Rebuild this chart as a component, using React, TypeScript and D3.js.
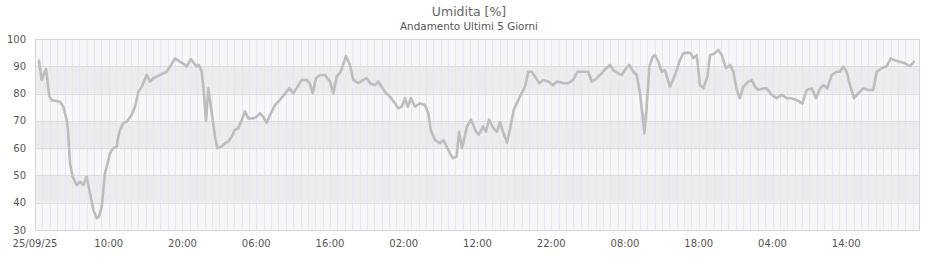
import React from "react";
import * as d3 from "d3";

// time offset in hours from 25/09/25 00:00
const hours: number[] = [
  0.54, 0.91, 1.49, 1.94, 2.26, 3.39, 3.84, 4.3, 4.47, 4.75, 5.11, 5.65, 6.1, 6.55, 7.01, 7.23, 7.91, 8.37, 8.68, 9.04,
  9.49, 10.17, 10.62, 11.08, 11.29, 11.53, 11.97, 12.43, 13.11, 13.56, 14.01, 14.47, 15.15, 15.59, 16.04, 16.5, 16.95,
  17.4, 17.86, 18.31, 18.98, 19.66, 20.34, 20.57, 21.11, 21.56, 21.93, 22.24, 22.6, 22.82, 23.19, 23.5, 23.86, 24.41,
  24.72, 25.32, 25.76, 26.21, 26.67, 27.12, 27.57, 28.03, 28.47, 28.92, 29.6, 30.06, 30.51, 30.96, 31.42, 32.09, 32.54,
  32.99, 33.45, 33.9, 34.49, 35.02, 35.48, 36.16, 36.84, 37.29, 37.65, 38.1, 38.64, 39.32, 40.0, 40.45, 40.91, 41.45,
  42.17, 42.71, 43.16, 43.84, 44.52, 44.98, 45.42, 46.1, 46.55, 47.01, 47.59, 48.14, 48.81, 49.26, 49.72, 50.17, 50.54,
  50.98, 51.53, 52.2, 52.88, 53.33, 53.65, 54.24, 54.92, 55.36, 55.82, 56.27, 56.64, 57.18, 57.49, 57.9, 58.58, 59.12,
  59.8, 60.2, 60.75, 61.15, 61.56, 62.1, 62.64, 63.05, 63.46, 64.0, 64.41, 64.9, 65.6, 66.44, 66.89, 67.35, 67.8, 68.38,
  68.92, 69.6, 70.2, 70.82, 71.63, 72.31, 72.99, 73.53, 74.35, 75.02, 75.48, 76.16, 76.84, 77.42, 77.97, 78.41, 79.09,
  79.55, 80.14, 80.58, 81.13, 81.59, 82.03, 82.4, 82.62, 82.94, 83.3, 83.76, 84.07, 84.52, 84.98, 85.42, 86.1, 86.78,
  87.46, 87.9, 88.45, 88.91, 89.26, 89.72, 90.17, 90.62, 91.17, 91.53, 92.2, 92.65, 93.11, 93.69, 94.24, 94.69, 95.15,
  95.59, 96.04, 96.72, 97.18, 97.63, 98.07, 98.75, 99.21, 99.89, 100.57, 101.25, 101.93, 102.6, 103.28, 104.04, 104.64,
  105.32, 105.9, 106.44, 106.98, 107.43, 108.03, 108.71, 109.15, 109.6, 110.06, 110.51, 111.05, 111.63, 112.31, 112.99,
  113.66, 114.13, 114.81, 115.49, 116.03, 116.61, 117.29, 117.97, 118.64, 119.19,
];

const humidity: number[] = [
  92, 85, 89, 79, 77.6, 77, 75.2, 70.3, 66.6, 54.4, 49.5, 46.5, 47.7, 46.5, 49.5, 46.5, 37.3, 34.3, 34.9, 38.5,
  50.8, 58.1, 60, 60.5, 64.2, 66.7, 69.1, 69.7, 72.2, 75.2, 80.7, 82.5, 86.8, 84.4, 85.6, 86.2, 86.8,
  87.4, 88, 89.9, 92.9, 91.7, 90.5, 89.9, 92.6, 91.1, 89.9, 90.5, 88, 82.5, 70, 81.9, 75, 64.2,
  60, 60.6, 61.8, 62.4, 64.2, 66.7, 67.3, 70.3, 73.4, 70.9, 70.9, 71.5, 72.8, 71.5, 69.3, 73.4, 75.8,
  77, 78.5, 80, 82, 80.1, 82, 85, 85, 83.5, 80.1, 85.6, 86.8, 86.8, 84.4, 80.1, 86.2, 88,
  93.8, 90.5, 85, 83.8, 85, 85.6, 83.8, 83.1, 84.4, 82.5, 80.1, 78.9, 76.4, 74.6, 75.2, 78.3, 75.2,
  78.3, 75.2, 76.4, 75.8, 72.8, 66.7, 63, 61.8, 63, 60.6, 58.1, 56.3, 57, 66, 60, 68, 70.5,
  66, 65, 68, 66, 70.5, 67.5, 66, 69.5, 66, 62, 67, 74, 78, 82.5, 88, 88, 86.2, 83.8,
  85, 84.4, 83.1, 84.4, 83.8, 83.8, 85, 88, 88, 88, 84.4, 85.6, 87.4, 89.3, 90.5, 88.6, 87.4,
  86.8, 89.3, 90.5, 88, 86.8, 80.1, 71.5, 65.4, 75.2, 89.9, 93.5, 94.1, 91.7, 88, 88.6, 82.5, 86.8,
  92.3, 94.8, 95, 94.8, 93, 94.1, 83.1, 81.9, 86.2, 94.1, 94.8, 96, 94.1, 89.3, 90.5, 88, 81.3,
  78.3, 82.5, 84.4, 85, 82.5, 81.3, 81.9, 81.9, 79.5, 78.3, 79.5, 78.3, 78.3, 77.6, 76.4, 81.3,
  81.9, 78.3, 81.9, 83.1, 81.9, 86.8, 88, 88, 89.9, 88, 83.1, 78.3, 80.1, 81.9, 81.3,
  81.3, 88, 89.3, 90.1, 92.9, 92.1, 91.7, 91.1, 90.1, 91.7,
];

const xTickHours: number[] = [0, 10, 20, 30, 40, 50, 60, 70, 80, 90, 100, 110];
const xTickLabels: string[] = [
  "25/09/25", "10:00", "20:00", "06:00", "16:00", "02:00", "12:00", "22:00", "08:00", "18:00", "04:00", "14:00",
];
const yTicks: number[] = [30, 40, 50, 60, 70, 80, 90, 100];

const title = "Umidita [%]";
const subtitle = "Andamento Ultimi 5 Giorni";

export default function App() {
  const W = 940, H = 260;
  const left = 35, right = 920, top = 39, bottom = 230;
  const x = d3.scaleLinear().domain([0, 120]).range([left, right]);
  const y = d3.scaleLinear().domain([30, 100]).range([bottom, top]);
  const font = "'DejaVu Sans', Verdana, sans-serif";

  const pts: [number, number][] = hours.map((h, i) => [h, humidity[i]]);
  const line = d3
    .line<[number, number]>()
    .x((d) => x(d[0]))
    .y((d) => y(d[1]));

  const bands = d3.range(30, 100, 10);
  const hourLines = d3.range(1, 120);

  return (
    <div style={{ position: "absolute", left: 0, top: 0 }}>
      <svg width={W} height={H} style={{ display: "block", background: "#fff" }}>
        <text x={469} y={16} textAnchor="middle" fontFamily={font} fontSize={12.5} fill="#666">
          {title}
        </text>
        <text x={469} y={30} textAnchor="middle" fontFamily={font} fontSize={10.4} fill="#555">
          {subtitle}
        </text>
        {bands.map((b, i) => (
          <rect
            key={b}
            x={left}
            y={y(b + 10)}
            width={right - left}
            height={y(b) - y(b + 10)}
            fill={i % 2 === 0 ? "#f7f7f7" : "#ececec"}
          />
        ))}
        {hourLines.map((h) => (
          <line
            key={h}
            x1={Math.round(x(h)) + 0.5}
            x2={Math.round(x(h)) + 0.5}
            y1={top}
            y2={bottom}
            stroke="#e6e6fa"
            strokeWidth={1}
          />
        ))}
        {yTicks.map((t) => (
          <line
            key={t}
            x1={left}
            x2={right}
            y1={Math.round(y(t)) + 0.5}
            y2={Math.round(y(t)) + 0.5}
            stroke="#dcdcdc"
            strokeWidth={1}
          />
        ))}
        <rect
          x={left + 0.5}
          y={top + 0.5}
          width={right - left - 1}
          height={bottom - top}
          fill="none"
          stroke="#d6d6d6"
        />
        <path
          d={line(pts) || ""}
          fill="none"
          stroke="#bdbdbd"
          strokeWidth={2.6}
          strokeLinejoin="round"
          strokeLinecap="round"
        />
        {yTicks.map((t) => (
          <text
            key={t}
            x={left - 9}
            y={y(t)}
            dy="0.35em"
            textAnchor="end"
            fontFamily={font}
            fontSize={10}
            fill="#555"
          >
            {t}
          </text>
        ))}
        {xTickHours.map((h, i) => (
          <text
            key={h}
            x={x(h)}
            y={247}
            textAnchor="middle"
            fontFamily={font}
            fontSize={10}
            fill="#555"
          >
            {xTickLabels[i]}
          </text>
        ))}
      </svg>
    </div>
  );
}
